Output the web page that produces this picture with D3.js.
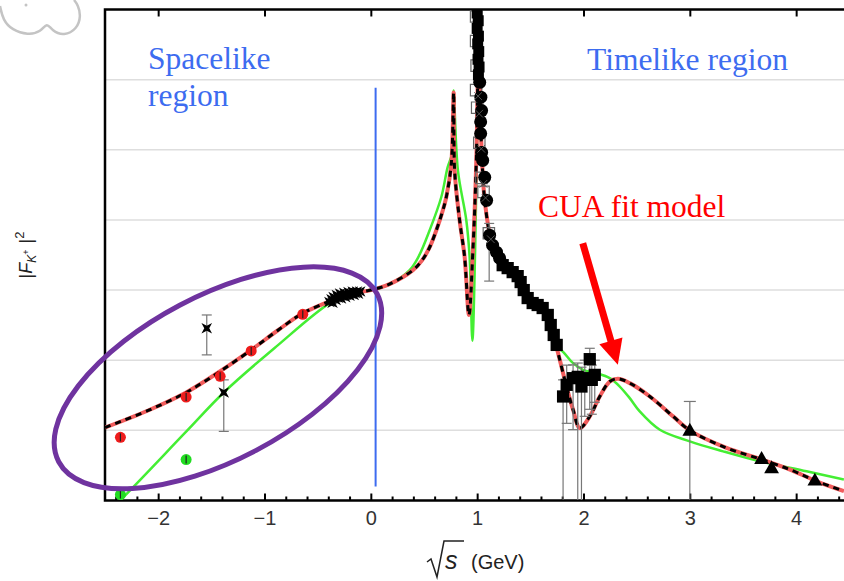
<!DOCTYPE html>
<html>
<head>
<meta charset="utf-8">
<script src="https://cdn.jsdelivr.net/npm/d3@7"></script>
<style>
  html, body { margin: 0; padding: 0; background: #fff; }
  svg { display: block; }
</style>
</head>
<body>
<div id="chart"></div>
<script>
// x = sqrt(s) in GeV, y = log10 |F_K+|^2
const xMajorTicks = [-2, -1, 0, 1, 2, 3, 4];
const yGridDecades = [-2, -1, 0, 1, 2, 3];

// CUA fit model (red / black dashed)
const cuaFit = [[-2.5,-1.96],[-2.1,-1.72],[-1.737,-1.46],[-1.417,-1.158],[-1.125,-0.853],[-0.88,-0.58],[-0.64,-0.331],
  [-0.357,-0.142],[-0.15,-0.04],[0,0],[0.176,0.085],[0.396,0.284],[0.48,0.42],[0.55,0.6],[0.616,0.853],[0.67,1.1],
  [0.71,1.327],[0.757,1.806],[0.779,2.815],[0.788,1.706],[0.835,0.995],[0.882,0.473],[0.923,-0.355],[0.96,0.569],
  [0.992,1.85],[1.0195,4.3],[1.028,2.84],[1.042,1.99],[1.071,1.28],[1.134,0.711],[1.24,0.355],[1.372,0.171],
  [1.494,-0.142],[1.635,-0.327],[1.711,-0.64],[1.745,-0.806],[1.84,-1.375],[1.902,-1.706],[1.965,-1.966],
  [2.059,-1.801],[2.153,-1.517],[2.247,-1.304],[2.325,-1.265],[2.435,-1.327],[2.624,-1.517],[2.843,-1.801],
  [3.0,-2.0],[3.345,-2.251],[3.659,-2.407],[3.941,-2.559],[4.193,-2.726],[4.449,-2.866]];

// other fit (green)
const greenFit = [[-2.402,-3.057],[-2.334,-2.962],[-1.737,-2.019],[-1.383,-1.46],[-0.89,-0.806],[-0.388,-0.189],
  [-0.2,-0.071],[0,0],[0.176,0.085],[0.365,0.284],[0.45,0.48],[0.553,0.853],[0.663,1.327],[0.722,1.749],
  [0.772,1.99],[0.779,2.844],[0.819,1.706],[0.898,0.995],[0.929,0.473],[0.955,-0.721],[0.981,0.569],[1.008,3.03],
  [1.0195,4.3],[1.028,2.84],[1.042,1.99],[1.071,1.28],[1.134,0.711],[1.24,0.355],[1.372,0.171],[1.494,-0.142],
  [1.635,-0.327],[1.711,-0.64],[1.745,-0.806],[1.808,-0.88],[1.902,-1.042],[1.996,-1.137],[2.122,-1.185],
  [2.247,-1.256],[2.341,-1.375],[2.435,-1.54],[2.529,-1.73],[2.718,-1.991],[3.0,-2.157],[3.313,-2.299],
  [3.659,-2.441],[4.098,-2.584],[4.449,-2.702]];

// spacelike data
const redPoints = [[-2.355,-2.10],[-1.737,-1.526],[-1.417,-1.23],[-1.125,-0.867],[-0.64,-0.345]];
const greenPoints = [[-2.355,-2.915],[-1.737,-2.417]];
const starPoints = [[-1.543,-0.545,-0.924,-0.355],[-1.383,-1.46,-2.015,-1.28]]; // x, y, lo, hi
const clusterPoints = [[-0.39,-0.17],[-0.37,-0.13],[-0.36,-0.18],[-0.35,-0.10],[-0.33,-0.14],[-0.32,-0.07],
  [-0.31,-0.11],[-0.29,-0.05],[-0.28,-0.12],[-0.27,-0.08],[-0.25,-0.04],[-0.24,-0.10],[-0.23,-0.07],
  [-0.21,-0.03],[-0.20,-0.08],[-0.19,-0.05],[-0.17,-0.02],[-0.16,-0.07],[-0.15,-0.04],[-0.13,-0.02],
  [-0.12,-0.05],[-0.10,-0.02]];

// timelike data
const phiSquares = [[1.0,3.95],[1.01,3.84],[1.0,3.73],[1.012,3.62],[1.005,3.51],[1.015,3.40],[1.008,3.29],
  [1.018,3.18],[1.012,3.07]];
const phiCircles = [[1.024,2.962],[1.035,2.75],[1.042,2.559],[1.033,2.40],[1.033,2.232],[1.042,1.962],[1.052,1.848],
  [1.071,1.607],[1.089,1.28],[1.117,0.782],[1.145,0.64],[1.182,0.54],[1.211,0.455]];
const phiOpen = [[0.99,3.9],[0.99,3.55],[0.995,3.2],[0.99,2.85],[1.0,2.6],[1.02,2.1],[1.04,1.6],[1.06,1.4],[1.11,0.81]];
const phiErr = [[1.113,0.81,0.128,0.95]];
const midSquares = [[1.24,0.355],[1.287,0.313],[1.334,0.256],[1.381,0.199],[1.409,0.114],[1.438,0],[1.475,-0.114],
  [1.522,-0.185],[1.569,-0.213],[1.616,-0.256],[1.664,-0.355],[1.692,-0.498],[1.72,-0.64],[1.748,-0.782]];
const dipSquares = [[1.808,-1.517,-3,-1.28],[1.842,-1.351,-1.9,-1.07],[1.902,-1.256,-1.99,-1.066],
  [1.946,-1.237,-3,-1.04],[1.981,-1.375,-3,-1.1],[2.012,-1.256,-1.8,-1.0],[2.059,-0.985,-1.7,-0.83],
  [2.078,-1.28,-1.77,-1.07],[2.106,-1.209,-1.6,-1.0]];
const triangles = [[3.0,-2.015,-3,-1.588],[3.675,-2.417],[3.769,-2.549],[4.176,-2.726]];

// annotations
const dividerX = 0.045, dividerY = [-2.8, 2.886];
const ellipse = { cx: -1.438, cy: -1.251 };
const arrow = { from: [1.993, 0.668], to: [2.323, -1.066] };

const W = 844, H = 581;
const x = d3.scaleLinear().domain([-2.5, 4.45]).range([105, 844]);
const y = d3.scaleLinear().domain([-3, 4]).range([500.5, 9.5]);

const svg = d3.select('#chart').append('svg')
  .attr('width', W).attr('height', H)
  .style('font-family', '"Liberation Sans", Arial, sans-serif');

svg.append('clipPath').attr('id', 'plot')
  .append('rect').attr('x', 105).attr('y', 10).attr('width', 739).attr('height', 490);

// little grey doodle in the corner
svg.append('path')
  .attr('d', d3.line().curve(d3.curveBasis)([[0,6],[3,20],[12,30],[28,35],[41,32],[47,22],[52,31],[64,36],[77,29],[81,16],[78,5],[74,0]]))
  .attr('fill', 'none').attr('stroke', '#c4c4c4').attr('stroke-width', 2.5);
svg.append('circle').attr('cx', 26).attr('cy', 5).attr('r', 1.5).attr('fill', '#c4c4c4');

// grid
svg.append('g').selectAll('line').data(yGridDecades).join('line')
  .attr('x1', 105).attr('x2', W).attr('y1', d => y(d)).attr('y2', d => y(d))
  .attr('stroke', '#dedede').attr('stroke-width', 1.5);

// axes (ticks point inward)
const minor = d3.range(-2.4, 4.45, 0.2).filter(v => Math.abs(v - Math.round(v)) > 1e-6);
const axB = svg.append('g').attr('transform', `translate(0,${y(-3)})`);
axB.call(d3.axisBottom(x).tickValues(minor).tickSize(-4).tickFormat(''));
axB.call(g => g.select('.domain').remove());
const axB2 = svg.append('g').attr('transform', `translate(0,${y(-3)})`)
  .call(d3.axisBottom(x).tickValues(xMajorTicks).tickSize(-7).tickPadding(10).tickFormat(d3.format('d')));
axB2.selectAll('text').attr('font-size', 20).attr('fill', '#333');
axB2.select('.domain').remove();
const axT = svg.append('g').attr('transform', `translate(0,${y(4)})`);
axT.call(d3.axisTop(x).tickValues(minor).tickSize(-4).tickFormat(''));
axT.call(d3.axisTop(x).tickValues(xMajorTicks).tickSize(-7).tickFormat(''));
axT.selectAll('.domain').remove();
svg.selectAll('.tick line').attr('stroke', '#000').attr('stroke-width', 2);

svg.append('path')
  .attr('d', `M${W},${y(4)}H${x(-2.5)}V${y(-3)}H${W}`)
  .attr('fill', 'none').attr('stroke', '#000').attr('stroke-width', 2.5);

// curves
const line = d3.line().x(d => x(d[0])).y(d => y(d[1])).curve(d3.curveCatmullRom.alpha(0.5));
const curves = svg.append('g').attr('clip-path', 'url(#plot)');
curves.append('path').attr('d', line(greenFit))
  .attr('fill', 'none').attr('stroke', '#44ee33').attr('stroke-width', 2.5);
curves.append('path').attr('d', line(cuaFit))
  .attr('fill', 'none').attr('stroke', '#f25c5c').attr('stroke-width', 4);
curves.append('path').attr('d', line(cuaFit))
  .attr('fill', 'none').attr('stroke', '#000').attr('stroke-width', 3).attr('stroke-dasharray', '6,5');

// data
const data = svg.append('g').attr('clip-path', 'url(#plot)');
const errBar = (sel, rows, cap) => {
  sel.selectAll(null).data(rows).join('line')
    .attr('x1', d => x(d[0])).attr('x2', d => x(d[0]))
    .attr('y1', d => y(d[2])).attr('y2', d => y(d[3]))
    .attr('stroke', '#777').attr('stroke-width', 1.2);
  [2, 3].forEach(k => sel.selectAll(null).data(rows.filter(d => d[k] > -3)).join('line')
    .attr('x1', d => x(d[0]) - cap).attr('x2', d => x(d[0]) + cap)
    .attr('y1', d => y(d[k])).attr('y2', d => y(d[k]))
    .attr('stroke', '#777').attr('stroke-width', 1.2));
};
errBar(data, starPoints, 5);
errBar(data, phiErr, 5);
errBar(data, dipSquares, 5);
errBar(data, triangles.filter(d => d.length > 2), 6);

const sym = (type, size) => d3.symbol().type(type).size(size)();
data.selectAll(null).data(phiOpen).join('path')
  .attr('transform', d => `translate(${x(d[0])},${y(d[1])})`)
  .attr('d', sym(d3.symbolSquare, 130)).attr('fill', 'none').attr('stroke', '#666').attr('stroke-width', 1.2);
data.selectAll(null).data(phiSquares).join('path')
  .attr('transform', d => `translate(${x(d[0])},${y(d[1])})`)
  .attr('d', sym(d3.symbolSquare, 120)).attr('fill', '#000');
data.selectAll(null).data(phiCircles).join('circle')
  .attr('cx', d => x(d[0])).attr('cy', d => y(d[1])).attr('r', 6.5).attr('fill', '#000');
data.selectAll(null).data(phiOpen.slice(3)).join('path')
  .attr('transform', d => `translate(${x(d[0]) + 2},${y(d[1]) + 6})`)
  .attr('d', sym(d3.symbolX, 40)).attr('fill', 'none').attr('stroke', '#555').attr('stroke-width', 1);
data.selectAll(null).data(midSquares.concat(dipSquares)).join('path')
  .attr('transform', d => `translate(${x(d[0])},${y(d[1])})`)
  .attr('d', sym(d3.symbolSquare, 150)).attr('fill', '#000');
data.selectAll(null).data(triangles).join('path')
  .attr('transform', d => `translate(${x(d[0])},${y(d[1])})`)
  .attr('d', sym(d3.symbolTriangle, 95)).attr('fill', '#000');

const star = d3.lineRadial().curve(d3.curveLinearClosed)
  .angle(d => d[0]).radius(d => d[1])(d3.range(8).map(i => [i * Math.PI / 4 + Math.PI / 4, i % 2 ? 2.5 : 7.5]));
data.selectAll(null).data(starPoints).join('path')
  .attr('transform', d => `translate(${x(d[0])},${y(d[1])})`)
  .attr('d', star).attr('fill', '#000');
data.selectAll(null).data(clusterPoints).join('path')
  .attr('transform', d => `translate(${x(d[0])},${y(d[1])})`)
  .attr('d', star).attr('fill', '#000');

const dots = (rows, fill) => {
  data.selectAll(null).data(rows).join('circle')
    .attr('cx', d => x(d[0])).attr('cy', d => y(d[1])).attr('r', 5.5).attr('fill', fill);
  data.selectAll(null).data(rows).join('line')
    .attr('x1', d => x(d[0])).attr('x2', d => x(d[0]))
    .attr('y1', d => y(d[1]) - 4).attr('y2', d => y(d[1]) + 4)
    .attr('stroke', '#222').attr('stroke-width', 1.2);
};
dots(redPoints, '#ee1c1c');
dots(greenPoints, '#22dd22');

// annotations
svg.append('line')
  .attr('x1', x(dividerX)).attr('x2', x(dividerX)).attr('y1', y(dividerY[1])).attr('y2', y(dividerY[0]))
  .attr('stroke', '#3d6cf0').attr('stroke-width', 2);

svg.append('ellipse')
  .attr('transform', `translate(${x(ellipse.cx)},${y(ellipse.cy)}) rotate(-27.8)`)
  .attr('rx', 180).attr('ry', 82)
  .attr('fill', 'none').attr('stroke', '#6f339f').attr('stroke-width', 5);

const [ax0, ay0] = [x(arrow.from[0]), y(arrow.from[1])];
const [ax1, ay1] = [x(arrow.to[0]), y(arrow.to[1])];
const len = Math.hypot(ax1 - ax0, ay1 - ay0), ux = (ax1 - ax0) / len, uy = (ay1 - ay0) / len;
const hb = [ax1 - ux * 25, ay1 - uy * 25];
svg.append('line').attr('x1', ax0).attr('y1', ay0).attr('x2', hb[0] + ux * 2).attr('y2', hb[1] + uy * 2)
  .attr('stroke', '#ff0000').attr('stroke-width', 7);
svg.append('path')
  .attr('d', `M${ax1},${ay1}L${hb[0] - uy * 12},${hb[1] + ux * 12}L${hb[0] + uy * 12},${hb[1] - ux * 12}Z`)
  .attr('fill', '#ff0000');

const serif = '"Liberation Serif", "Times New Roman", serif';
const label = (tx, ty, str, color) => svg.append('text')
  .attr('x', tx).attr('y', ty).attr('fill', color)
  .style('font-family', serif).style('font-size', '31.5px').text(str);
label(148, 69, 'Spacelike', '#3d6cf0');
label(148, 106, 'region', '#3d6cf0');
label(587, 70, 'Timelike region', '#3d6cf0');
label(538, 217, 'CUA fit model', '#ff0000');

// axis titles
const yl = svg.append('text').attr('transform', 'translate(32,255) rotate(-90)')
  .attr('text-anchor', 'middle').attr('font-size', 18).attr('fill', '#222');
yl.append('tspan').text('|');
yl.append('tspan').attr('font-style', 'italic').text('F');
yl.append('tspan').attr('font-style', 'italic').attr('font-size', 12).attr('dy', 4).text('K');
yl.append('tspan').attr('font-size', 9).attr('dy', -7).text('+');
yl.append('tspan').attr('dy', 3).attr('dx', 1).text(' |');
yl.append('tspan').attr('font-size', 13).attr('dy', -8).text('2');

svg.append('path')
  .attr('d', 'M427,562L431,559L437,577L444,541L464,541')
  .attr('fill', 'none').attr('stroke', '#222').attr('stroke-width', 1.5);
svg.append('text').attr('x', 445).attr('y', 569).attr('font-size', 25)
  .attr('font-style', 'italic').attr('fill', '#222').text('s');
svg.append('text').attr('x', 471).attr('y', 569).attr('font-size', 20).attr('fill', '#222').text('(GeV)');
</script>
</body>
</html>
